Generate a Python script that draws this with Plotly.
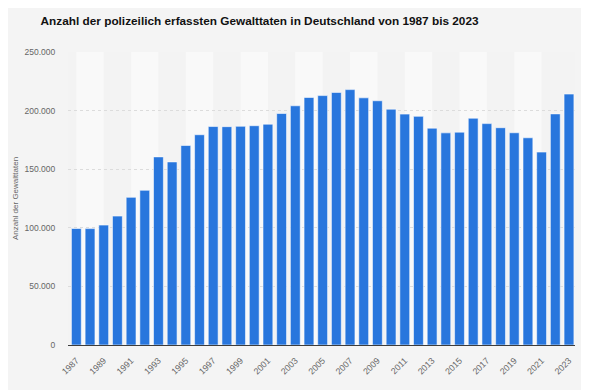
import plotly.graph_objects as go

years = list(range(1987, 2024))
values = [99400, 99300, 102300, 110000, 126000, 132000, 160500, 156200, 170200,
          179400, 186400, 186300, 186600, 187100, 188400, 197500, 204100, 211200,
          212800, 215500, 217900, 210900, 208400, 201200, 197000, 195100, 185000,
          181000, 181600, 193500, 188900, 185400, 181100, 176800, 164600, 197200,
          214100]
tick_years = years[::2]
title_text = "Anzahl der polizeilich erfassten Gewalttaten in Deutschland von 1987 bis 2023"
y_title = "Anzahl der Gewalttaten"
y_ticks = [0, 50000, 100000, 150000, 200000, 250000]

fig = go.Figure()
fig.add_trace(go.Bar(
    x=years, y=values, width=0.72,
    marker=dict(color="#2876dd", line=dict(color="rgba(255,255,255,0.7)", width=0.8)),
))

# alternating light column bands (from every 4th year to 2 years later)
shapes = []
for i in range(0, len(years) - 2, 4):
    shapes.append(dict(type="rect", xref="x", yref="paper",
                       x0=years[i], x1=years[i + 2], y0=0, y1=1,
                       fillcolor="#f9f9f9", line=dict(width=0), layer="below"))

fig.update_layout(
    width=581, height=382,
    paper_bgcolor="#f4f4f4", plot_bgcolor="#f3f3f3",
    margin=dict(l=60, r=14, t=44, b=45),
    separators=",.",
    font=dict(family="Liberation Sans, Arial, sans-serif", color="#666666"),
    title=dict(text="<b>" + title_text + "</b>", xref="container", yref="container",
               x=0.433, y=0.967, xanchor="center", yanchor="middle",
               font=dict(size=11.8, color="#111111")),
    shapes=shapes,
    showlegend=False,
    bargap=0.3,
)
fig.update_xaxes(
    range=[1986.39, 2023.44], tickmode="array", tickvals=tick_years,
    ticktext=[str(y) for y in tick_years], tickangle=-45,
    tickfont=dict(size=8.8, color="#666666"), automargin=False,
    showgrid=False, showline=True, linecolor="#3c3c3c", linewidth=1,
    ticks="outside", ticklen=6, tickcolor="rgba(0,0,0,0)", zeroline=False,
)
fig.update_yaxes(
    range=[0, 250000], tickmode="array", tickvals=y_ticks, automargin=False,
    tickformat=",d", tickfont=dict(size=8.5, color="#666666"),
    showgrid=True, gridcolor="#dcdcdc", griddash="dot", gridwidth=1,
    zeroline=False, ticks="outside", ticklen=10, tickcolor="rgba(0,0,0,0)",
    title=dict(text=y_title, font=dict(size=8, color="#666666"), standoff=4),
)

fig.write_html("out.html")
